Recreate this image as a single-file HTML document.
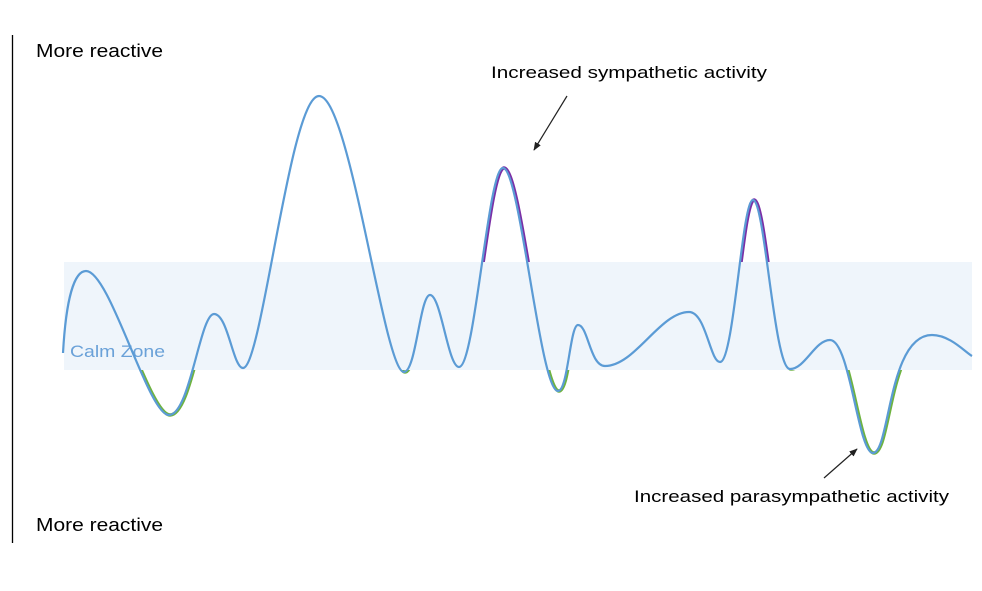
<!DOCTYPE html>
<html><head><meta charset="utf-8"><style>
body{margin:0;background:#fff;}
svg text{font-family:"Liberation Sans",sans-serif;}
</style></head><body>
<svg width="982" height="586" viewBox="0 0 982 586" xmlns="http://www.w3.org/2000/svg">
<defs>
<marker id="ah" viewBox="0 0 10 10" refX="9" refY="5" markerWidth="7" markerHeight="7" orient="auto"><path d="M0,1 L10,5 L0,9 z" fill="#222"/></marker>
<clipPath id="below"><rect x="0" y="370" width="982" height="200"/></clipPath>
<clipPath id="above"><rect x="470" y="0" width="310" height="262"/></clipPath>
<path id="c" d="M63,353 C66,300 74,271 86,271 C110,271 148,415 169,415 C190,415 200,314 214,314 C228,314 233,368 243,368 C262,368 290,96 319,96 C350,96 384,372 404,372 C416,372 420,295 430,295 C441,295 448,367 459,367 C475,367 488,168 503,168 C520,168 540,391 558,391 C568,391 570,325 578,325 C588,325 590,366 605,366 C635,366 660,312 689,312 C706,312 710,362 720,362 C734,362 742,200 753,200 C765,200 774,369 790,369 C805,369 815,340 830,340 C850,340 858,453 873,453 C890,453 888,335 932,335 C950,335 965,352 972,356"/>
</defs>
<line x1="12.5" y1="35" x2="12.5" y2="543" stroke="#000" stroke-width="1.3"/>
<rect x="64" y="262" width="908" height="108" fill="#eff5fb"/>
<text x="70" y="357" font-size="17" fill="#6aa1d8" textLength="95" lengthAdjust="spacingAndGlyphs">Calm Zone</text>
<use href="#c" fill="none" stroke="#6eb33f" stroke-width="3.5" clip-path="url(#below)" transform="translate(1,0)"/>
<use href="#c" fill="none" stroke="#7a2fa6" stroke-width="3.5" clip-path="url(#above)" transform="translate(1,0)"/>
<use href="#c" fill="none" stroke="#5b9bd5" stroke-width="2.2"/>
<text x="36" y="57" font-size="18" fill="#000" textLength="127" lengthAdjust="spacingAndGlyphs">More reactive</text>
<text x="36" y="531" font-size="18" fill="#000" textLength="127" lengthAdjust="spacingAndGlyphs">More reactive</text>
<text x="491" y="78" font-size="17" fill="#000" textLength="276" lengthAdjust="spacingAndGlyphs">Increased sympathetic activity</text>
<text x="634" y="502" font-size="17" fill="#000" textLength="315" lengthAdjust="spacingAndGlyphs">Increased parasympathetic activity</text>
<line x1="567" y1="96" x2="534" y2="150" stroke="#222" stroke-width="1.2" marker-end="url(#ah)"/>
<line x1="824" y1="478" x2="857" y2="449" stroke="#222" stroke-width="1.2" marker-end="url(#ah)"/>
</svg>
</body></html>
